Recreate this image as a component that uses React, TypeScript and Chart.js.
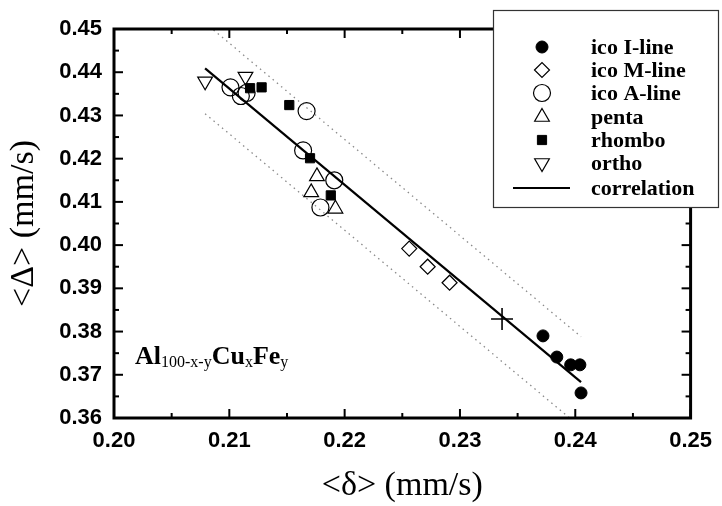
import React, { useEffect, useRef } from 'react';
import { Chart, registerables } from 'chart.js';
import { drawPoint } from 'chart.js/helpers';

Chart.register(...registerables);

// ---- data ----
const icoIX = [0.2372, 0.2384, 0.2396, 0.2404, 0.2405];
const icoIY = [0.3790, 0.3741, 0.3723, 0.3723, 0.3658];

const icoMX = [0.2256, 0.2272, 0.2291];
const icoMY = [0.3992, 0.3950, 0.3913];

const icoAX = [0.2101, 0.2110, 0.2115, 0.2167, 0.2164, 0.2191, 0.2179];
const icoAY = [0.4365, 0.4345, 0.4352, 0.4310, 0.4219, 0.4150, 0.4087];

const pentaX = [0.2176, 0.2171, 0.2192];
const pentaY = [0.4159, 0.4122, 0.4084];

const rhomboX = [0.2118, 0.2128, 0.2152, 0.2170, 0.2188];
const rhomboY = [0.4363, 0.4365, 0.4324, 0.4201, 0.4115];

const orthoX = [0.2079, 0.2114];
const orthoY = [0.4379, 0.4390];

const centerX = [0.23365];
const centerY = [0.3829];

const corrX = [0.2079, 0.2405];
const corrY = [0.4409, 0.3683];
const bandOffset = 0.0105;

const xTickValues = [0.20, 0.21, 0.22, 0.23, 0.24, 0.25];
const yTickValues = [0.36, 0.37, 0.38, 0.39, 0.40, 0.41, 0.42, 0.43, 0.44, 0.45];
const xMinorTicks = [0.205, 0.215, 0.225, 0.235, 0.245];
const yMinorTicks = [0.365, 0.375, 0.385, 0.395, 0.405, 0.415, 0.425, 0.435, 0.445];

const legendLabels = ['ico I-line', 'ico M-line', 'ico A-line', 'penta', 'rhombo', 'ortho', 'correlation'];

const pts = (xs: number[], ys: number[]) => xs.map((x, i) => ({ x, y: ys[i] }));

const TRANSPARENT = 'rgba(0,0,0,0)';

const markerStyles = [
  { pointStyle: 'circle', radius: 6, rotation: 0, fill: '#000', borderWidth: 1 },
  { pointStyle: 'rectRot', radius: 7.5, rotation: 0, fill: TRANSPARENT, borderWidth: 1.2 },
  { pointStyle: 'circle', radius: 8.5, rotation: 0, fill: TRANSPARENT, borderWidth: 1.2 },
  { pointStyle: 'triangle', radius: 8.5, rotation: 0, fill: TRANSPARENT, borderWidth: 1.2 },
  { pointStyle: 'rect', radius: 6.5, rotation: 0, fill: '#000', borderWidth: 1 },
  { pointStyle: 'triangle', radius: 8.5, rotation: 180, fill: TRANSPARENT, borderWidth: 1.2 },
];

const framePlugin = {
  id: 'framePlugin',
  afterDatasetsDraw(chart: any) {
    const { ctx } = chart;
    // composition label
    ctx.save();
    ctx.fillStyle = '#000';
    ctx.textBaseline = 'alphabetic';
    ctx.textAlign = 'left';
    let x = 135;
    const base = 364;
    const parts: [string, boolean][] = [
      ['Al', true], ['100-x-y', false], ['Cu', true], ['x', false], ['Fe', true], ['y', false],
    ];
    for (const [t, big] of parts) {
      ctx.font = big ? 'bold 26px "Liberation Serif"' : '16px "Liberation Serif"';
      ctx.fillText(t, x, big ? base : base + 3);
      x += ctx.measureText(t).width;
    }
    ctx.restore();
  },
  afterDraw(chart: any) {
    const { ctx, chartArea, scales } = chart;
    const { left, right, top, bottom } = chartArea;
    const xs = scales.x;
    const ys = scales.y;
    ctx.save();
    ctx.strokeStyle = '#000';
    ctx.lineWidth = 2;
    const line = (a: number, b: number, c: number, d: number) => {
      ctx.beginPath();
      ctx.moveTo(a, b);
      ctx.lineTo(c, d);
      ctx.stroke();
    };
    const drawX = (v: number, len: number) => {
      const p = xs.getPixelForValue(v);
      line(p, bottom, p, bottom - len);
      line(p, top, p, top + len);
    };
    const drawY = (v: number, len: number) => {
      const p = ys.getPixelForValue(v);
      line(left, p, left + len, p);
      line(right, p, right - len, p);
    };
    xTickValues.forEach((v) => drawX(v, 9));
    xMinorTicks.forEach((v) => drawX(v, 5));
    yTickValues.forEach((v) => drawY(v, 9));
    yMinorTicks.forEach((v) => drawY(v, 5));
    ctx.lineWidth = 3;
    ctx.strokeRect(left, top, right - left, bottom - top);

    // legend box
    const bx = 493, by = 10, bw = 225, bh = 197;
    ctx.fillStyle = '#fff';
    ctx.fillRect(bx, by, bw, bh);
    ctx.lineWidth = 1.2;
    ctx.strokeStyle = '#333';
    ctx.strokeRect(bx + 0.5, by + 0.5, bw, bh);

    const rowY = [47, 70, 93, 117, 140, 163, 188];
    const symX = 542;
    const textX = 591;
    ctx.font = 'bold 22px "Liberation Serif"';
    ctx.textBaseline = 'middle';
    ctx.textAlign = 'left';
    legendLabels.forEach((lab, i) => {
      const yy = rowY[i];
      ctx.strokeStyle = '#000';
      if (i < markerStyles.length) {
        const m = markerStyles[i];
        ctx.fillStyle = m.fill;
        ctx.lineWidth = m.borderWidth;
        drawPoint(ctx, { pointStyle: m.pointStyle, radius: m.radius, rotation: m.rotation, borderWidth: m.borderWidth } as any, symX, yy);
      } else {
        ctx.lineWidth = 2;
        line(513, yy, 570, yy);
      }
      ctx.fillStyle = '#000';
      ctx.fillText(lab, textX, yy + 1);
    });
    ctx.restore();
  },
};

export default function App() {
  const ref = useRef<HTMLCanvasElement | null>(null);
  useEffect(() => {
    if (!ref.current) return;
    const scatter = (xs: number[], ys: number[], i: number) => {
      const m = markerStyles[i];
      return {
        type: 'scatter' as const,
        data: pts(xs, ys),
        pointStyle: m.pointStyle,
        pointRadius: m.radius,
        pointRotation: m.rotation,
        pointBackgroundColor: m.fill,
        pointBorderColor: '#000',
        pointBorderWidth: m.borderWidth,
        showLine: false,
      };
    };
    const bandLine = (off: number) => ({
      type: 'line' as const,
      data: pts(corrX, corrY.map((v) => v + off)),
      borderColor: '#8a8a8a',
      borderWidth: 1.3,
      borderDash: [1.5, 4],
      pointRadius: 0,
      fill: false,
    });
    const chart = new Chart(ref.current, {
      type: 'scatter',
      data: {
        datasets: [
          bandLine(bandOffset) as any,
          bandLine(-bandOffset) as any,
          {
            type: 'line',
            data: pts(corrX, corrY),
            borderColor: '#000',
            borderWidth: 2.2,
            pointRadius: 0,
            fill: false,
          } as any,
          scatter(icoIX, icoIY, 0),
          scatter(icoMX, icoMY, 1),
          scatter(icoAX, icoAY, 2),
          scatter(pentaX, pentaY, 3),
          scatter(rhomboX, rhomboY, 4),
          scatter(orthoX, orthoY, 5),
          {
            type: 'scatter',
            data: pts(centerX, centerY),
            pointStyle: 'cross',
            pointRadius: 11,
            pointBorderColor: '#000',
            pointBorderWidth: 1.6,
          } as any,
        ],
      },
      options: {
        animation: false,
        responsive: false,
        devicePixelRatio: 1,
        layout: { padding: { left: 0, right: 24, top: 29, bottom: 0 } },
        plugins: { legend: { display: false }, tooltip: { enabled: false } },
        scales: {
          x: {
            type: 'linear',
            min: 0.2,
            max: 0.25,
            afterBuildTicks: (s: any) => {
              s.ticks = xTickValues.map((v) => ({ value: v }));
            },
            afterFit: (s: any) => {
              s.height = 88;
            },
            grid: { display: false, drawTicks: false },
            border: { display: false },
            ticks: {
              padding: 10,
              color: '#000',
              maxRotation: 0,
              font: { family: '"Liberation Sans"', weight: 'bold', size: 22 },
              callback: (v: any) => Number(v).toFixed(2),
            },
            title: {
              display: true,
              text: '<δ> (mm/s)',
              color: '#000',
              font: { family: '"Liberation Serif"', size: 34 },
              padding: { top: 0, bottom: 0 },
            },
          },
          y: {
            type: 'linear',
            min: 0.36,
            max: 0.45,
            afterBuildTicks: (s: any) => {
              s.ticks = yTickValues.map((v) => ({ value: v }));
            },
            afterFit: (s: any) => {
              s.width = 114;
            },
            grid: { display: false, drawTicks: false },
            border: { display: false },
            ticks: {
              padding: 12,
              color: '#000',
              font: { family: '"Liberation Sans"', weight: 'bold', size: 22 },
              callback: (v: any) => Number(v).toFixed(2),
            },
            title: {
              display: true,
              text: '<Δ> (mm/s)',
              color: '#000',
              font: { family: '"Liberation Serif"', size: 34 },
              padding: { top: 4, bottom: 0 },
            },
          },
        },
      },
      plugins: [framePlugin],
    } as any);
    return () => chart.destroy();
  }, []);
  return (
    <div style={{ position: 'fixed', left: 0, top: 0, width: 722, height: 506, background: '#fff' }}>
      <canvas ref={ref} width={722} height={506} style={{ width: 722, height: 506, display: 'block' }} />
    </div>
  );
}
